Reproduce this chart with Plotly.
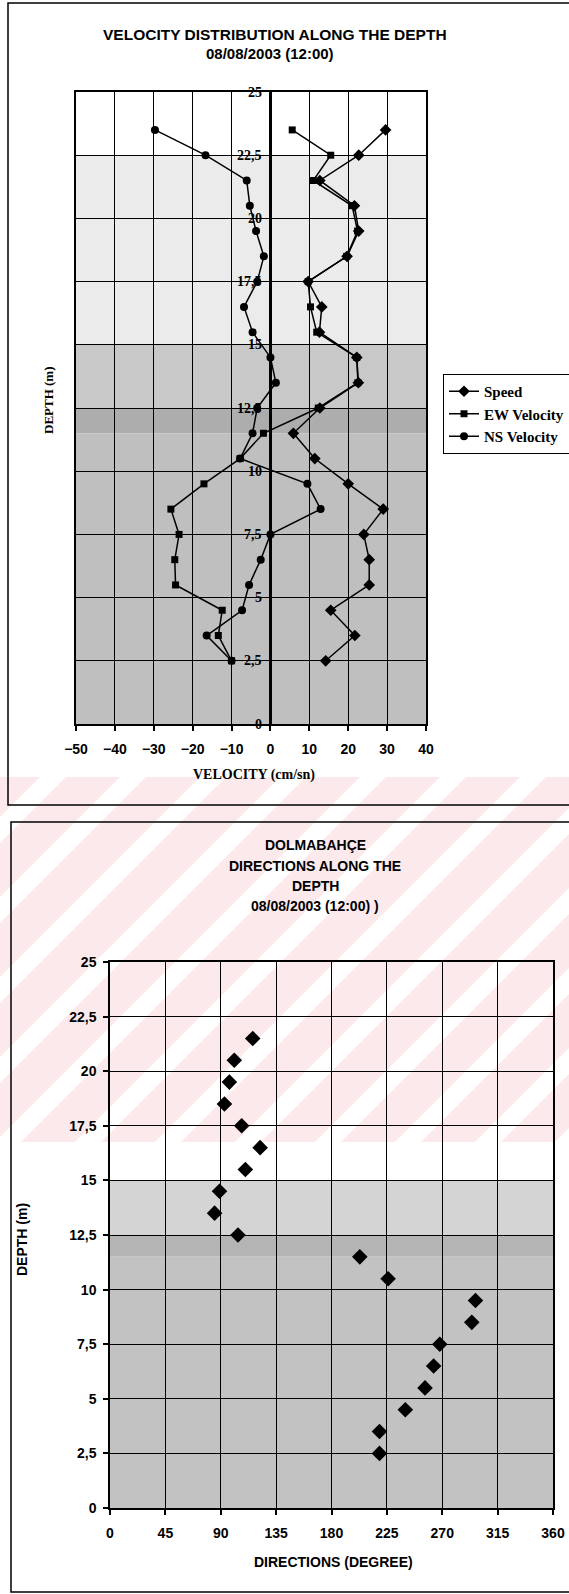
import plotly.graph_objects as go

W, H = 569, 1594

# ---------------- data: velocity profile ----------------
depth_vel = [23.5, 22.5, 21.5, 20.5, 19.5, 18.5, 17.5, 16.5, 15.5, 14.5, 13.5,
             12.5, 11.5, 10.5, 9.5, 8.5, 7.5, 6.5, 5.5, 4.5, 3.5, 2.5]
speed = [29.6, 22.7, 12.7, 21.6, 22.7, 19.7, 9.7, 13.2, 12.6, 22.2, 22.6,
         12.7, 5.9, 11.4, 20.0, 29.0, 24.0, 25.4, 25.4, 15.5, 21.7, 14.2]
ew_velocity = [5.6, 15.5, 11.0, 21.0, 22.4, 19.6, 9.7, 10.3, 11.9, 22.2, 22.5,
               12.3, -1.8, -7.8, -17.1, -25.6, -23.5, -24.6, -24.4, -12.4, -13.4, -10.0]
ns_velocity = [-29.7, -16.7, -6.1, -5.3, -3.7, -1.7, -3.4, -6.8, -4.6, 0.0, 1.4,
               -3.4, -4.6, -7.8, 9.5, 12.9, 0.0, -2.5, -5.5, -7.3, -16.4, -10.0]
vel_ticks = [-50, -40, -30, -20, -10, 0, 10, 20, 30, 40]

# ---------------- data: direction profile ----------------
depth_dir = [21.5, 20.5, 19.5, 18.5, 17.5, 16.5, 15.5, 14.5, 13.5, 12.5,
             11.5, 10.5, 9.5, 8.5, 7.5, 6.5, 5.5, 4.5, 3.5, 2.5]
direction = [116, 101, 97, 93, 107, 122, 110, 89, 85, 104,
             203, 226, 297, 294, 268, 263, 256, 240, 219, 219]
dir_ticks = [0, 45, 90, 135, 180, 225, 270, 315, 360]

depth_ticks = [0, 2.5, 5, 7.5, 10, 12.5, 15, 17.5, 20, 22.5, 25]
depth_tick_labels = ["0", "2,5", "5", "7,5", "10", "12,5", "15", "17,5", "20", "22,5", "25"]


def px(x):
    return x / W


def py(y):
    return 1 - y / H


SANS = "Liberation Sans, Arial, sans-serif"
SERIF = "Liberation Serif, Times New Roman, serif"

fig = go.Figure()

line_style = dict(color="black", width=1.5)
fig.add_trace(go.Scatter(x=speed, y=depth_vel, mode="lines+markers", name="<b>Speed</b>",
                         line=line_style, marker=dict(symbol="diamond", size=9, color="black"),
                         xaxis="x", yaxis="y"))
fig.add_trace(go.Scatter(x=ew_velocity, y=depth_vel, mode="lines+markers", name="<b>EW Velocity</b>",
                         line=line_style, marker=dict(symbol="square", size=7, color="black"),
                         xaxis="x", yaxis="y"))
fig.add_trace(go.Scatter(x=ns_velocity, y=depth_vel, mode="lines+markers", name="<b>NS Velocity</b>",
                         line=line_style, marker=dict(symbol="circle", size=8, color="black"),
                         xaxis="x", yaxis="y"))
fig.add_trace(go.Scatter(x=direction, y=depth_dir, mode="markers", showlegend=False,
                         marker=dict(symbol="diamond", size=12, color="black"),
                         xaxis="x2", yaxis="y2"))

shapes = []

# ---- faint pink watermark band with white diagonal stripes (paper coords) ----
wm_top, wm_bot = 777, 1142
shapes.append(dict(type="rect", xref="paper", yref="paper", layer="below",
                   x0=0, x1=1, y0=py(wm_bot), y1=py(wm_top),
                   fillcolor="#fce9ec", line=dict(width=0)))


def clip_x(poly, xmin, xmax):
    def clip(pts, inside, inter):
        out = []
        n = len(pts)
        for i in range(n):
            cur, prev = pts[i], pts[i - 1]
            if inside(cur):
                if not inside(prev):
                    out.append(inter(prev, cur))
                out.append(cur)
            elif inside(prev):
                out.append(inter(prev, cur))
        return out

    def inter_at(xc):
        def f(a, b):
            t = (xc - a[0]) / (b[0] - a[0])
            return (xc, a[1] + t * (b[1] - a[1]))
        return f

    pts = clip(poly, lambda p: p[0] >= xmin, inter_at(xmin))
    if pts:
        pts = clip(pts, lambda p: p[0] <= xmax, inter_at(xmax))
    return pts


stripe_w, stripe_gap = 26, 80
c = wm_top - 40
while c < W + wm_bot + 80:
    poly = [(c - wm_top, wm_top), (c + stripe_w - wm_top, wm_top),
            (c + stripe_w - wm_bot, wm_bot), (c - wm_bot, wm_bot)]
    pts = clip_x(poly, 0, W)
    if len(pts) >= 3:
        path = "M " + " L ".join(f"{px(x):.5f},{py(y):.5f}" for x, y in pts) + " Z"
        shapes.append(dict(type="path", xref="paper", yref="paper", layer="below",
                           path=path, fillcolor="white", line=dict(width=0)))
    c += stripe_gap

# ---- gray shading bands (data coords, below grid) ----
top_bands = [(15, 22.5, "#ebebeb"), (12.5, 15, "#c8c8c8"), (11.5, 12.5, "#adadad"), (0, 11.5, "#bfbfbf")]
for y0, y1, col in top_bands:
    shapes.append(dict(type="rect", xref="x", yref="y", layer="below",
                       x0=-50, x1=40, y0=y0, y1=y1, fillcolor=col, line=dict(width=0)))
bot_bands = [(12.5, 15, "#d4d4d4"), (11.5, 12.5, "#b4b4b4"), (0, 11.5, "#c2c2c2")]
for y0, y1, col in bot_bands:
    shapes.append(dict(type="rect", xref="x2", yref="y2", layer="below",
                       x0=0, x1=360, y0=y0, y1=y1, fillcolor=col, line=dict(width=0)))

# ---- outer frames ----
shapes.append(dict(type="rect", xref="paper", yref="paper", layer="above",
                   x0=px(8), x1=px(W + 10), y0=py(805), y1=py(3),
                   line=dict(color="black", width=1.5)))
shapes.append(dict(type="rect", xref="paper", yref="paper", layer="above",
                   x0=px(11), x1=px(W + 10), y0=py(1592), y1=py(822),
                   line=dict(color="black", width=1.5)))

annotations = []


def note(text, x, y, font, size, angle=0, xanchor="center", yanchor="middle"):
    annotations.append(dict(text=text, x=px(x), y=py(y), xref="paper", yref="paper",
                            showarrow=False, textangle=angle, xanchor=xanchor, yanchor=yanchor,
                            font=dict(family=font, size=size, color="black")))


note("<b>VELOCITY DISTRIBUTION ALONG THE DEPTH</b>", 275, 35, SANS, 15.5)
note("<b>08/08/2003 (12:00)</b>", 270, 53, SANS, 15)
note("<b>VELOCITY (cm/sn)</b>", 254, 775, SERIF, 14)
note("<b>DEPTH (m)</b>", 48, 400, SERIF, 13, angle=-90)

note("<b>DOLMABAHÇE</b>", 315, 845, SANS, 14)
note("<b>DIRECTIONS ALONG THE</b>", 315, 866, SANS, 14)
note("<b>DEPTH</b>", 315, 886, SANS, 14)
note("<b>08/08/2003 (12:00) )</b>", 315, 906, SANS, 14)
note("<b>DIRECTIONS (DEGREE)</b>", 333, 1562, SANS, 14)
note("<b>DEPTH (m)</b>", 22, 1240, SANS, 14, angle=-90)

# y tick labels of the velocity chart sit on the zero line
for v, lab in zip(depth_ticks, depth_tick_labels):
    annotations.append(dict(text=f"<b>{lab}</b>", x=0, y=v, xref="x", yref="y", showarrow=False,
                            xanchor="right", yanchor="middle", xshift=-6,
                            font=dict(family=SERIF, size=14, color="black")))

grid = dict(showgrid=True, gridcolor="black", gridwidth=1, showline=True, linecolor="black",
            linewidth=1.5, mirror=True, tickcolor="black")

fig.update_layout(
    width=W, height=H,
    margin=dict(l=0, r=0, t=0, b=0, autoexpand=False),
    paper_bgcolor="white", plot_bgcolor="rgba(0,0,0,0)",
    showlegend=True,
    legend=dict(x=px(443), y=py(374), xanchor="left", yanchor="top",
                bgcolor="white", bordercolor="black", borderwidth=1,
                font=dict(family=SERIF, size=15, color="black"), tracegroupgap=0),
    xaxis=dict(domain=[px(76), px(426)], range=[-50, 40], tickvals=vel_ticks, anchor="y",
               ticks="outside", ticklen=5, tickwidth=1.5, zeroline=True, zerolinecolor="black",
               zerolinewidth=2.5, ticklabelstandoff=6,
               tickfont=dict(family=SANS, size=14, color="black", weight="bold"), **grid),
    yaxis=dict(domain=[py(724), py(92)], range=[0, 25], tickvals=depth_ticks, anchor="x",
               showticklabels=False, zeroline=False, ticks="", **grid),
    xaxis2=dict(domain=[px(110), px(553)], range=[0, 360], tickvals=dir_ticks, anchor="y2",
                ticks="outside", ticklen=5, tickwidth=1.5, zeroline=False, ticklabelstandoff=6,
                tickfont=dict(family=SANS, size=14, color="black", weight="bold"), **grid),
    yaxis2=dict(domain=[py(1508), py(962)], range=[0, 25], tickvals=depth_ticks,
                ticktext=depth_tick_labels, anchor="x2", ticks="outside", ticklen=5, tickwidth=1.5,
                zeroline=False, ticklabelstandoff=4,
                tickfont=dict(family=SANS, size=14, color="black", weight="bold"), **grid),
    shapes=shapes,
    annotations=annotations,
)

fig.write_html("out.html", config={"displayModeBar": False},
               post_script="document.body.style.margin='0px';document.body.style.padding='0px';")
